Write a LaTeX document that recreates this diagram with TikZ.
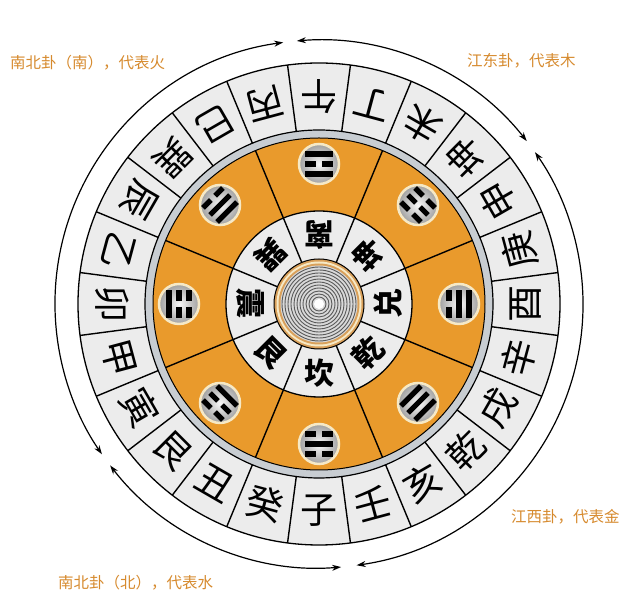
\documentclass[tikz,border=0pt]{standalone}
\usepackage{fontspec}
\newfontfamily\cjk{Noto Sans CJK SC}
\usetikzlibrary{arrows.meta}
\definecolor{ringorange}{HTML}{E99A2C}
\definecolor{cellgray}{HTML}{ECECEC}
\definecolor{bandgray}{HTML}{C8CDD2}
\definecolor{zoneorange}{HTML}{D68A2E}
\definecolor{rimcream}{HTML}{F6E9C6}
\definecolor{coretan}{HTML}{D9A05A}
\newcommand{\drawyao}[2]{\ifnum#2=1 \fill[black] (-14,#1-2.6) rectangle (14,#1+2.6);\else\fill[black] (-14,#1-2.6) rectangle (-3,#1+2.6); \fill[black] (3,#1-2.6) rectangle (14,#1+2.6);\fi}
\tikzset{
 mountain/.style={font=\cjk\fontsize{37}{37}\selectfont, inner sep=0pt},
 gua/.style={font=\cjk\bfseries\fontsize{30}{30}\selectfont, inner sep=0pt},
 sector/.style={line width=1.4pt, black},
 zonetext/.style={font=\cjk\fontsize{15.5}{15.5}\selectfont, text=zoneorange, anchor=west, inner sep=0pt},
 cyc/.style={line width=1.2pt, {Stealth[length=9pt,width=6pt]}-{Stealth[length=9pt,width=6pt]}},
 tridisc/.style={circle, minimum size=40pt, inner sep=0pt, draw=rimcream, line width=2.5pt, inner color=gray!5, outer color=gray!75},
}
\begin{document}
\begin{tikzpicture}[x=1pt,y=1pt]
\useasboundingbox (0,0) rectangle (633,602);
\coordinate (C) at (319,298);
% rings
\filldraw[fill=cellgray,draw=black,line width=1.3pt] (C) circle[radius=241];
\filldraw[fill=bandgray,draw=black,line width=1.2pt] (C) circle[radius=174];
\filldraw[fill=ringorange,draw=black,line width=1pt] (C) circle[radius=166];
\filldraw[fill=cellgray,draw=black,line width=1.3pt] (C) circle[radius=93];
\foreach \k in {0,...,23} \draw[sector] ([shift={(7.5+15*\k:174)}]C) -- ([shift={(7.5+15*\k:241)}]C);
\foreach \k in {0,...,7} \draw[sector] ([shift={(22.5+45*\k:45)}]C) -- ([shift={(22.5+45*\k:166)}]C);
% core
\fill[coretan] (C) circle[radius=45];
\fill[rimcream] (C) circle[radius=42.5];
\fill[coretan] (C) circle[radius=40.5];
\fill[gray!30] (C) circle[radius=38.5];
\foreach \r in {37,34,...,7} \draw[gray!70!black, line width=0.9pt] (C) circle[radius=\r];
\fill[white] (C) circle[radius=5];
\draw[black, line width=1pt] (C) circle[radius=45];
% 24 mountains
\foreach \a/\c [count=\i] in {270/子,285/壬,300/亥,315/乾,330/戌,345/辛,360/酉,375/庚,390/申,405/坤,420/未,435/丁,450/午,465/丙,480/巳,495/巽,510/辰,525/乙,540/卯,555/甲,570/寅,585/艮,600/丑,615/癸}
  \node[mountain, rotate=\a+90] (m\i) at ([shift={(\a:207)}]C) {\c};
% trigrams
\foreach \a/\n/\p/\q/\r [count=\i] in {270/坎/0/1/0, 315/乾/1/1/1, 360/兑/1/1/0, 405/坤/0/0/0, 450/离/1/0/1, 495/巽/0/1/1, 540/震/1/0/0, 585/艮/0/0/1} {
  \node[gua, rotate=\a+90] (g\i) at ([shift={(\a:69)}]C) {\n};
  \node[tridisc] (t\i) at ([shift={(\a:140)}]C) {};
  \begin{scope}[shift={(319,298)}, shift={(\a:140)}, rotate=\a+90]
    \drawyao{-10}{\p}
    \drawyao{0}{\q}
    \drawyao{10}{\r}
  \end{scope}
}
% zone arcs
\draw[cyc] ([shift={(97.8:264)}]C) arc[start angle=97.8, end angle=214.7, radius=264];
\draw[cyc] ([shift={(38.1:264)}]C) arc[start angle=38.1, end angle=94.8, radius=264];
\draw[cyc] ([shift={(-81.8:264)}]C) arc[start angle=-81.8, end angle=35.1, radius=264];
\draw[cyc] ([shift={(217.7:264)}]C) arc[start angle=217.7, end angle=274.8, radius=264];
% labels
\node[zonetext] (z1) at (10,539) {南北卦（南），代表火};
\node[zonetext] (z2) at (467,541) {江东卦，代表木};
\node[zonetext] (z3) at (511,85) {江西卦，代表金};
\node[zonetext] (z4) at (58,19) {南北卦（北），代表水};
\end{tikzpicture}
\end{document}
